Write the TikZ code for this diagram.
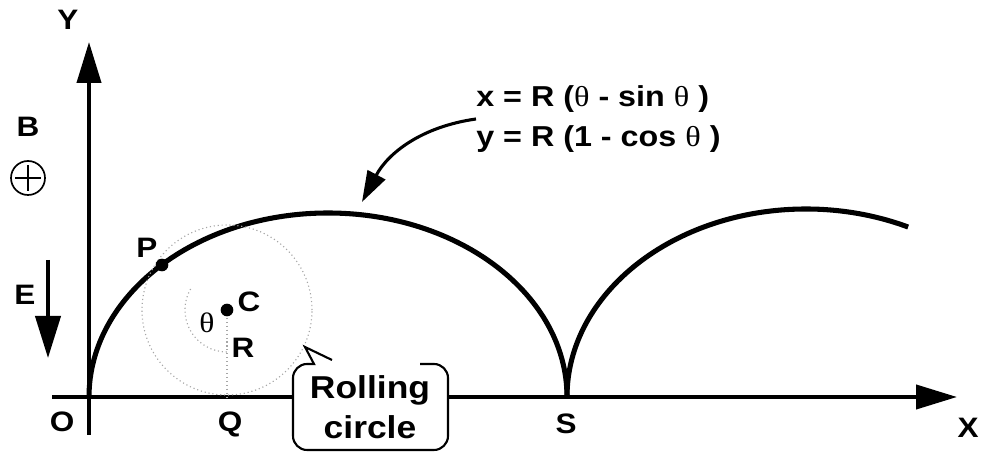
\documentclass[tikz,border=0pt]{standalone}
\usepackage{fontspec}
\setmainfont{Liberation Sans}[FakeStretch=1.12]
\newfontfamily\greekfont{Liberation Serif}[FakeStretch=1.12]
\newcommand{\thetasym}{{\greekfont\mdseries θ}}
\usetikzlibrary{arrows.meta, positioning, calc}

\begin{document}
\begin{tikzpicture}[x=0.025cm, y=0.025cm,
  axis/.style={line width=2.8pt, -{Triangle[length=29pt, width=17pt]}},
  lbl/.style={font=\fontsize{20}{22}\selectfont\bfseries, inner sep=0pt},
  arch/.style={line width=3.6pt},
  guide/.style={gray!70, dotted, line width=0.8pt},
  dot/.style={circle, fill=black, inner sep=0pt, minimum size=9pt}]
  \useasboundingbox (0,0) rectangle (987,452);

  % Axes
  \coordinate (O) at (89,55);
  \coordinate (xstart) at (52,55);
  \coordinate (xtip) at (957,55);
  \coordinate (ystart) at (89,17);
  \coordinate (ytip) at (89,410);
  \draw[axis] (xstart) -- (xtip);
  \draw[axis] (ystart) -- (ytip);
  \node[lbl] (Ylbl) at (68,432) {Y};
  \node[lbl] (Xlbl) at (968,24) {X};
  \node[lbl] (Olbl) at (62,30) {O};
  \node[lbl] (Qlbl) at (230,28) {Q};
  \node[lbl] (Slbl) at (566,28) {S};

  % --- Cycloid arches ---
  \draw[arch] (O) arc[start angle=180, end angle=0, x radius=239, y radius=184] coordinate (S);
  \draw[arch] (S) arc[start angle=180, end angle=64.7, x radius=239, y radius=188];

  % Rolling circle
  \coordinate (C) at (227,142);
  \coordinate (Q) at (227,55);
  \draw[guide] (C) circle[radius=85];
  \draw[guide] (C) ++(150:42) arc[start angle=150, end angle=270, radius=42];
  \draw[guide] (C) -- (Q);
  \node[dot] (Cdot) at (C) {};
  \node[dot] (Pdot) at (162,187) {};
  \node[lbl] (Clbl) at (249,150) {C};
  \node[lbl] (Plbl) at (147,204) {P};
  \node[lbl] (Rlbl) at (243,104) {R};
  \node[font=\fontsize{20}{22}\selectfont\greekfont, inner sep=0pt] (thlbl) at (207,129) {θ};

  % Fields B and E
  \node[lbl] (Blbl) at (28,325) {B};
  \draw[line width=1.2pt] (28,274) circle[radius=17];
  \draw[line width=1.2pt] (15,274) -- (41,274) (28,261) -- (28,287);
  \node[lbl] (Elbl) at (25,157) {E};
  \coordinate (Etop) at (48,192);
  \coordinate (Etip) at (48,94);
  \draw[line width=2.5pt, -{Triangle[length=30pt, width=18pt]}] (Etop) -- (Etip);

  % Equations
  \node[lbl, align=left, anchor=west, font=\fontsize{20.5}{28.5}\selectfont\bfseries] (eqn) at (476,333)
    {x = R (\thetasym{} - sin \thetasym{} )\\y = R (1 - cos \thetasym{} )};
  \coordinate (archtip) at (362,250);
  \draw[line width=2.2pt, -{Triangle[length=22pt, width=14pt]}] (eqn.west) to[out=188, in=62] (archtip);

  % Callout
  \fill[white, rounded corners=10pt] (293,2) rectangle (448,88);
  \draw[line width=1.5pt] (332,92) -- (305,105) -- (314,88) [rounded corners=10pt] -- (293,88) -- (293,2) -- (448,2) -- (448,88) -- (420,88);
  \node[align=center, font=\fontsize{22.5}{28.5}\selectfont\bfseries, inner sep=0pt] (roll) at (370,45) {Rolling\\circle};
\end{tikzpicture}
\end{document}
